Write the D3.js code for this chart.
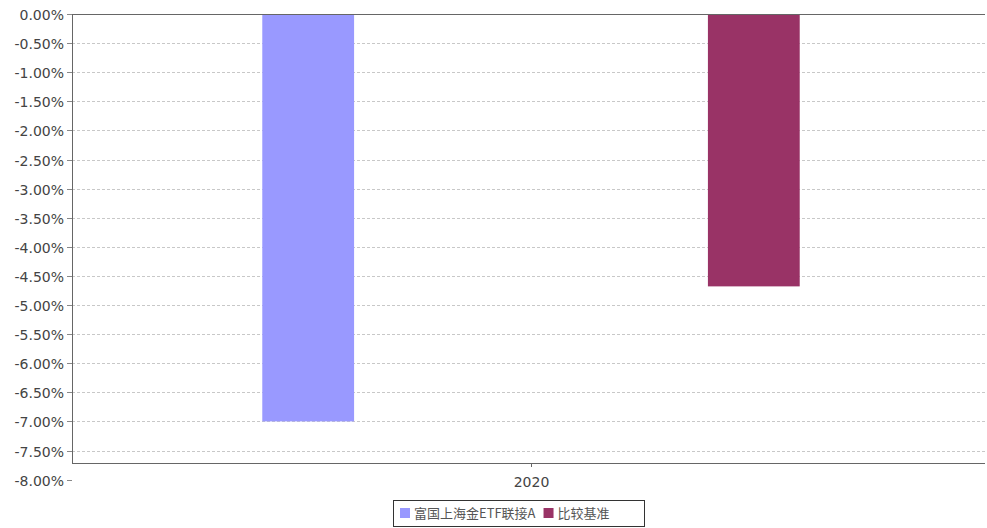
<!DOCTYPE html>
<html>
<head>
<meta charset="utf-8">
<script src="https://cdn.jsdelivr.net/npm/d3@7"></script>
<style>
  body { margin: 0; background: #fff; }
  svg { display: block; }
</style>
</head>
<body>
<div id="chart"></div>
<script>
// chart data
var years = ["2020"];
var seriesNames = ["富国上海金ETF联接A", "比较基准"];
var seriesColors = ["#9999ff", "#993366"];
var fundValues = [-7.00];
var benchValues = [-4.68];
var yTicks = [0, -0.5, -1, -1.5, -2, -2.5, -3, -3.5, -4, -4.5, -5, -5.5, -6, -6.5, -7, -7.5, -8];

var W = 987, H = 528;
var margin = { top: 14, left: 72, right: 2 };
var plotBottom = 463;

var svg = d3.select("#chart").append("svg")
    .attr("width", W)
    .attr("height", H);

var y = d3.scaleLinear()
    .domain([0, -8])
    .range([margin.top, margin.top + 16 * 29.1]);

var x = d3.scaleBand()
    .domain(years)
    .range([margin.left, 990]);

var xSeries = d3.scalePoint()
    .domain(seriesNames)
    .range([0, x.bandwidth()])
    .padding(0.53);

var barW = x.bandwidth() * 0.1;

//grid lines (dashed), skipping 0 which is the solid top line
svg.append("g").selectAll("line")
    .data(yTicks.filter(function(d) { return d !== 0 && y(d) < plotBottom; }))
    .enter().append("line")
    .attr("x1", margin.left)
    .attr("x2", W - margin.right)
    .attr("y1", function(d) { return Math.round(y(d)) + 0.5; })
    .attr("y2", function(d) { return Math.round(y(d)) + 0.5; })
    .style("stroke", "#c8c8c8")
    .style("stroke-dasharray", "3,2");

//bars
var values = [fundValues, benchValues];
seriesNames.forEach(function(name, i) {
    svg.append("g").selectAll("rect")
        .data(years)
        .enter().append("rect")
        .attr("x", function(d) { return x(d) + xSeries(name) - barW / 2; })
        .attr("y", y(0))
        .attr("width", barW)
        .attr("height", function(d, j) { return y(values[i][j]) - y(0); })
        .style("fill", seriesColors[i]);
});

//frame lines
svg.append("line")
    .attr("x1", margin.left).attr("x2", W - margin.right)
    .attr("y1", margin.top + 0.5).attr("y2", margin.top + 0.5)
    .style("stroke", "#666");
svg.append("line")
    .attr("x1", margin.left + 0.5).attr("x2", margin.left + 0.5)
    .attr("y1", margin.top).attr("y2", plotBottom)
    .style("stroke", "#666");
svg.append("line")
    .attr("x1", margin.left).attr("x2", W - margin.right)
    .attr("y1", plotBottom + 0.5).attr("y2", plotBottom + 0.5)
    .style("stroke", "#666");

//y tick marks and labels
var yAx = svg.append("g");
yTicks.forEach(function(t) {
    var py = Math.round(y(t)) + 0.5;
    yAx.append("line")
        .attr("x1", margin.left - 5).attr("x2", margin.left)
        .attr("y1", py).attr("y2", py)
        .style("stroke", "#888");
    yAx.append("text")
        .attr("x", margin.left - 8)
        .attr("y", py + 5)
        .style("text-anchor", "end")
        .style("font-family", "DejaVu Sans, Verdana, sans-serif")
        .style("font-size", "14px")
        .style("fill", "#444")
        .text(d3.format(".2f")(t).replace("−", "-") + "%");
});

//x tick and label
years.forEach(function(yr) {
    var cx = Math.round(x(yr) + x.bandwidth() / 2) + 0.5;
    svg.append("line")
        .attr("x1", cx).attr("x2", cx)
        .attr("y1", plotBottom).attr("y2", plotBottom + 4)
        .style("stroke", "#666");
    svg.append("text")
        .attr("x", cx)
        .attr("y", plotBottom + 24)
        .style("text-anchor", "middle")
        .style("font-family", "DejaVu Sans, Verdana, sans-serif")
        .style("font-size", "14px")
        .style("fill", "#444")
        .text(yr);
});

//legend
var legend = svg.append("g");
legend.append("rect")
    .attr("x", 393.5).attr("y", 500.5)
    .attr("width", 251).attr("height", 26)
    .style("fill", "#fff")
    .style("stroke", "#333");
var lx = 400;
seriesNames.forEach(function(name, i) {
    legend.append("rect")
        .attr("x", lx).attr("y", 508)
        .attr("width", 10).attr("height", 10)
        .style("fill", seriesColors[i]);
    var t = legend.append("text")
        .attr("x", lx + 14)
        .attr("y", 518)
        .style("font-family", "Noto Sans CJK SC, sans-serif")
        .style("font-size", "13px")
        .style("fill", "#555")
        .text(name);
    lx += 14 + t.node().getComputedTextLength() + 8;
});
</script>
</body>
</html>
